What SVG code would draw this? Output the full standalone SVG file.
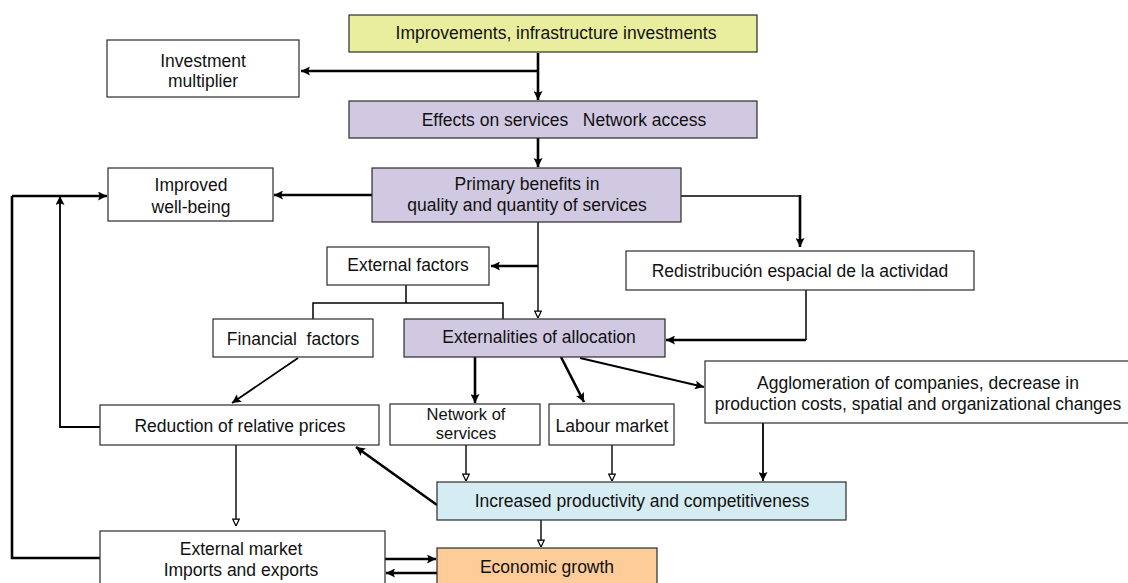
<svg xmlns="http://www.w3.org/2000/svg" width="1128" height="583" viewBox="0 0 1128 583">
<style>
.box{stroke:#2b2b2b;stroke-width:1.2;fill:#fff}
.yel{fill:#e9ee9f}
.lav{fill:#d1c9e2}
.blu{fill:#d4ecf2}
.org{fill:#fdcc99}
text{font-family:"Liberation Sans",Arial,sans-serif;font-size:17.5px;fill:#111;text-anchor:middle}
.c{fill:none;stroke:#000;stroke-linejoin:miter}
.t{stroke-width:2.6;marker-end:url(#af)}
.m{stroke-width:1.8;marker-end:url(#af)}
.n{stroke-width:1.4;marker-end:url(#ah)}
.p{stroke-width:2.6}
.q{stroke-width:1.5}
</style>
<defs>
<marker id="af" viewBox="0 0 10 10" refX="10" refY="5" markerWidth="10" markerHeight="9" markerUnits="userSpaceOnUse" orient="auto">
<path d="M0,0 L10,5 L0,10 L2,5 z" fill="#000"/>
</marker>
<marker id="ah" viewBox="0 0 10 10" refX="9.5" refY="5" markerWidth="8" markerHeight="8" markerUnits="userSpaceOnUse" orient="auto">
<path d="M1,1 L9.5,5 L1,9 z" fill="#fff" stroke="#000" stroke-width="1.5"/>
</marker>
</defs>
<g id="connectors">
<path class="c t" d="M538,53 V100"/>
<path class="c t" d="M538,71 H301"/>
<path class="c t" d="M538,138 V167"/>
<path class="c t" d="M372,195 H274"/>
<path class="c q" d="M681,196 H800"/>
<path class="c t" d="M800,195 V247"/>
<path class="c q" d="M806,290 V340"/>
<path class="c t" d="M806,340 H666"/>
<path class="c n" d="M538,222 V318"/>
<path class="c t" d="M538,266 H491"/>
<path class="c q" d="M406,285 V303 M313,319 V303 H503 V319"/>
<path class="c t" d="M475,357 V403"/>
<path class="c t" d="M561,357 L584,402"/>
<path class="c m" d="M580,358 L704,387"/>
<path class="c m" d="M298,358 L232,403"/>
<path class="c n" d="M236,445 V526"/>
<path class="c p" d="M100,558 H12 V196"/>
<path class="c m" d="M100,427 H60 V196"/>
<path class="c t" d="M12,196 H107"/>
<path class="c n" d="M466,445 V481"/>
<path class="c n" d="M612,445 V481"/>
<path class="c m" d="M763,423 V481"/>
<path class="c t" d="M437,505 L356,447"/>
<path class="c n" d="M541,520 V547"/>
<path class="c t" d="M385,559 H436"/>
<path class="c t" d="M437,573 H386"/>
</g>
<g id="improvements"><rect class="box yel" x="349" y="15" width="408" height="37"/><text x="556" y="39">Improvements, infrastructure investments</text></g>
<g id="investment-multiplier"><rect class="box" x="107" y="40" width="192" height="57"/><text x="203" y="67">Investment</text><text x="203" y="87">multiplier</text></g>
<g id="effects"><rect class="box lav" x="349" y="101" width="408" height="37"/><text x="564" y="126" xml:space="preserve">Effects on services   Network access</text></g>
<g id="primary-benefits"><rect class="box lav" x="372" y="168" width="309" height="54"/><text x="527" y="190">Primary benefits in</text><text x="527" y="211">quality and quantity of services</text></g>
<g id="improved-wellbeing"><rect class="box" x="108" y="168" width="165" height="53"/><text x="191" y="191">Improved</text><text x="191" y="213">well-being</text></g>
<g id="external-factors"><rect class="box" x="327" y="247" width="162" height="38"/><text x="408" y="271">External factors</text></g>
<g id="redistribucion"><rect class="box" x="626" y="251" width="348" height="39"/><text x="800" y="277">Redistribución espacial de la actividad</text></g>
<g id="financial-factors"><rect class="box" x="213" y="319" width="160" height="38"/><text x="293" y="345" xml:space="preserve">Financial  factors</text></g>
<g id="externalities"><rect class="box lav" x="404" y="319" width="261" height="38"/><text x="539" y="343">Externalities of allocation</text></g>
<g id="agglomeration"><rect class="box" x="705" y="361" width="430" height="62"/><text x="918" y="389">Agglomeration of companies, decrease in</text><text x="918" y="410">production costs, spatial and organizational changes</text></g>
<g id="reduction"><rect class="box" x="100" y="405" width="279" height="40"/><text x="240" y="432">Reduction of relative prices</text></g>
<g id="network-services"><rect class="box" x="390" y="404" width="150" height="41"/><text x="466" y="420" style="font-size:16.5px">Network of</text><text x="466" y="439" style="font-size:16.5px">services</text></g>
<g id="labour-market"><rect class="box" x="549" y="404" width="125" height="41"/><text x="612" y="432">Labour market</text></g>
<g id="increased-productivity"><rect class="box blu" x="437" y="482" width="409" height="38"/><text x="642" y="507">Increased productivity and competitiveness</text></g>
<g id="external-market"><rect class="box" x="100" y="531" width="285" height="60"/><text x="241" y="555">External market</text><text x="241" y="576">Imports and exports</text></g>
<g id="economic-growth"><rect class="box org" x="437" y="548" width="220" height="40"/><text x="547" y="573">Economic growth</text></g>
</svg>
